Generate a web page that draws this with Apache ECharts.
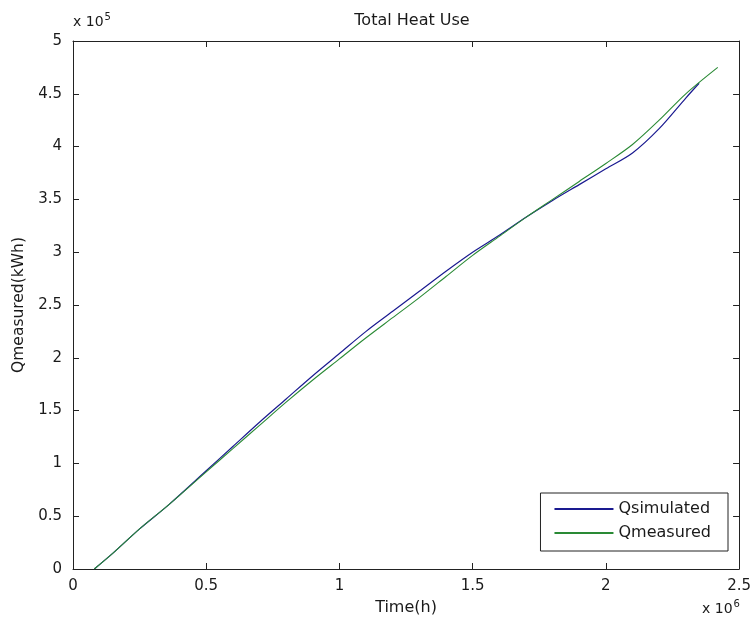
<!DOCTYPE html>
<html>
<head>
<meta charset="utf-8">
<script src="https://cdn.jsdelivr.net/npm/echarts@6/dist/echarts.min.js"></script>
<style>html,body{margin:0;padding:0;background:#fff}#c{width:754px;height:627px}</style>
</head>
<body>
<div id="c"></div>
<script>
// Time in units of 1e6 h, heat in units of 1e5 kWh
const timeSimulated = [0.08, 0.15, 0.25, 0.36, 0.50, 0.60, 0.70, 0.80, 0.90, 1.00, 1.10, 1.20, 1.30, 1.40, 1.50, 1.60, 1.70, 1.80, 1.90, 2.00, 2.10, 2.20, 2.30, 2.35];
const qSimulated    = [0.00, 0.15, 0.38, 0.61, 0.93, 1.16, 1.39, 1.61, 1.83, 2.04, 2.25, 2.44, 2.63, 2.82, 3.00, 3.16, 3.33, 3.49, 3.64, 3.79, 3.94, 4.17, 4.46, 4.60];
const timeMeasured  = [0.08, 0.15, 0.25, 0.36, 0.50, 0.60, 0.70, 0.80, 0.90, 1.00, 1.10, 1.20, 1.30, 1.40, 1.50, 1.60, 1.70, 1.80, 1.90, 2.00, 2.10, 2.20, 2.30, 2.42];
const qMeasured     = [0.00, 0.15, 0.38, 0.61, 0.92, 1.14, 1.36, 1.58, 1.79, 1.99, 2.19, 2.38, 2.57, 2.77, 2.97, 3.15, 3.33, 3.50, 3.67, 3.84, 4.02, 4.25, 4.50, 4.75];
const xTicks = [0, 0.5, 1, 1.5, 2, 2.5];
const yTicks = [0, 0.5, 1, 1.5, 2, 2.5, 3, 3.5, 4, 4.5, 5];
const seriesNames = ['Qsimulated', 'Qmeasured'];

const FONT = "'DejaVu Sans', 'Liberation Sans', sans-serif";
const TXT = '#1a1a1a';
const chart = echarts.init(document.getElementById('c'), null, {renderer: 'canvas'});
const G = {left: 73, right: 13, top: 41, bottom: 58};
const axisCommon = {
  type: 'value',
  axisLine: {show: true, onZero: false, lineStyle: {color: '#222', width: 1}},
  axisTick: {show: true, inside: true, length: 6, lineStyle: {color: '#222'}},
  splitLine: {show: false},
  axisLabel: {color: TXT, fontSize: 15, fontFamily: FONT}
};
const xMin = xTicks[0], xMax = xTicks[xTicks.length - 1];
const yMin = yTicks[0], yMax = yTicks[yTicks.length - 1];
const richExp = {
  a: {fontSize: 14, fontFamily: FONT, fill: TXT, color: TXT},
  b: {fontSize: 10, fontFamily: FONT, fill: TXT, color: TXT, verticalAlign: 'top', padding: [0, 0, 10, 1]}
};
chart.setOption({
  animation: false,
  backgroundColor: '#fff',
  title: {
    text: 'Total Heat Use', left: 407, top: 8, textAlign: 'center',
    textStyle: {fontSize: 16, fontWeight: 'normal', color: TXT, fontFamily: FONT}
  },
  grid: G,
  legend: {
    data: seriesNames, orient: 'vertical', right: 26, bottom: 76,
    backgroundColor: '#fff', borderColor: '#222', borderWidth: 1, borderRadius: 0,
    padding: [8, 17, 10, 14], itemGap: 8, itemWidth: 59, itemHeight: 2, icon: 'rect',
    textStyle: {fontSize: 16, lineHeight: 16, color: TXT, fontFamily: FONT}
  },
  xAxis: [
    Object.assign({}, axisCommon, {
      position: 'bottom', min: xMin, max: xMax, interval: 0.5,
      name: 'Time(h)', nameLocation: 'middle', nameGap: 31,
      nameTextStyle: {fontSize: 16, color: TXT, fontFamily: FONT},
      axisLabel: Object.assign({}, axisCommon.axisLabel, {margin: 10})
    }),
    Object.assign({}, axisCommon, {
      position: 'top', min: xMin, max: xMax, interval: 0.5,
      axisLabel: {show: false}
    })
  ],
  yAxis: [
    Object.assign({}, axisCommon, {
      position: 'left', min: yMin, max: yMax, interval: 0.5,
      name: 'Qmeasured(kWh)', nameLocation: 'middle', nameGap: 44,
      nameTextStyle: {fontSize: 15.5, color: TXT, fontFamily: FONT},
      axisLabel: Object.assign({}, axisCommon.axisLabel, {margin: 11})
    }),
    Object.assign({}, axisCommon, {
      position: 'right', min: yMin, max: yMax, interval: 0.5,
      axisLabel: {show: false}
    })
  ],
  graphic: [
    {type: 'text', left: 73, top: 12, style: {text: '{a|x 10}{b|5}', fill: TXT, rich: richExp}},
    {type: 'text', left: 702, top: 599, style: {text: '{a|x 10}{b|6}', fill: TXT, rich: richExp}}
  ],
  series: [
    {
      name: seriesNames[0], type: 'line', xAxisIndex: 0, yAxisIndex: 0,
      data: timeSimulated.map((t, i) => [t, qSimulated[i]]),
      showSymbol: false, symbol: 'none', smooth: 0.3,
      lineStyle: {color: '#1a1a90', width: 1.2}, itemStyle: {color: '#1a1a90'}, z: 2
    },
    {
      name: seriesNames[1], type: 'line', xAxisIndex: 0, yAxisIndex: 0,
      data: timeMeasured.map((t, i) => [t, qMeasured[i]]),
      showSymbol: false, symbol: 'none', smooth: 0.3,
      lineStyle: {color: '#2a8a35', width: 1.1}, itemStyle: {color: '#2a8a35'}, z: 3
    }
  ]
});
</script>
</body>
</html>
